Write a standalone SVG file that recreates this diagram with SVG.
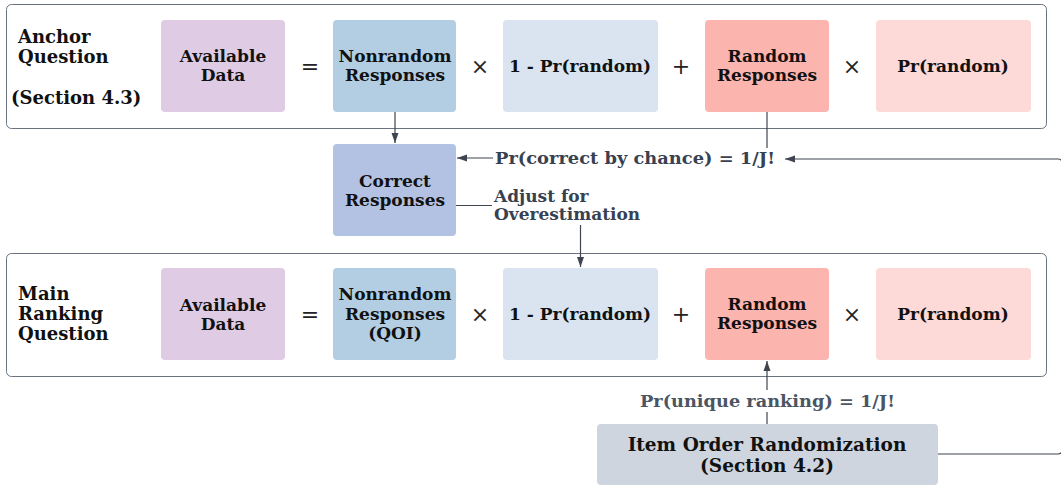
<svg xmlns="http://www.w3.org/2000/svg" width="1061" height="486" viewBox="0 0 1061 486">
<style>
text{font-family:"DejaVu Serif","Liberation Serif",serif;font-weight:bold;fill:#111;}
.c{text-anchor:middle;}
.bx{font-size:17px;}
.op{font-size:22px;font-weight:normal;text-anchor:middle;fill:#222;}
.frame{fill:none;stroke:#6b7280;stroke-width:1;}
.lbl{font-size:17px;fill:#374151;}
.conn{fill:none;stroke:#3f4550;stroke-width:1.2;}
</style>
<defs>
<marker id="ah" viewBox="0 0 10 10" refX="10" refY="5" markerWidth="10" markerHeight="10" markerUnits="userSpaceOnUse" orient="auto">
<path d="M0,1.5 L10,5 L0,8.5 Z" fill="#3f4550"/>
</marker>
</defs>

<g id="anchor-frame">
<rect class="frame" x="6.5" y="4.5" width="1040" height="124" rx="5"/>
<text x="18" y="43" font-size="18">Anchor</text>
<text x="18" y="63" font-size="18">Question</text>
<text x="11" y="104" font-size="18">(Section 4.3)</text>
</g>
<g id="a-available">
<rect x="161" y="20" width="124" height="92" rx="4" fill="#dfcce4"/>
<text class="bx c" x="223" y="62">Available</text>
<text class="bx c" x="223" y="81">Data</text>
</g>
<text class="op" x="310" y="74">=</text>
<g id="a-nonrandom">
<rect x="333" y="20" width="123" height="92" rx="4" fill="#b3cde3"/>
<text class="bx c" x="395" y="62">Nonrandom</text>
<text class="bx c" x="395" y="81">Responses</text>
</g>
<text class="op" x="480" y="74">×</text>
<g id="a-oneminus">
<rect x="503" y="20" width="155" height="92" rx="4" fill="#d9e4f0"/>
<text class="bx c" x="580" y="72">1 - Pr(random)</text>
</g>
<text class="op" x="681" y="74">+</text>
<g id="a-random">
<rect x="705" y="20" width="124" height="92" rx="4" fill="#fbb4ae"/>
<text class="bx c" x="767" y="62">Random</text>
<text class="bx c" x="767" y="81">Responses</text>
</g>
<text class="op" x="852" y="74">×</text>
<g id="a-prrandom">
<rect x="876" y="20" width="155" height="92" rx="4" fill="#fdd9d7"/>
<text class="bx c" x="953" y="72">Pr(random)</text>
</g>

<g id="correct">
<rect x="333" y="144" width="123" height="92" rx="4" fill="#b3c2e3"/>
<text class="bx c" x="395" y="187">Correct</text>
<text class="bx c" x="395" y="206">Responses</text>
</g>

<g id="main-frame">
<rect class="frame" x="6.5" y="253.5" width="1040" height="123" rx="5"/>
<text x="18" y="300" font-size="18">Main</text>
<text x="18" y="320" font-size="18">Ranking</text>
<text x="18" y="340" font-size="18">Question</text>
</g>
<g id="m-available">
<rect x="161" y="268" width="124" height="92" rx="4" fill="#dfcce4"/>
<text class="bx c" x="223" y="311">Available</text>
<text class="bx c" x="223" y="330">Data</text>
</g>
<text class="op" x="310" y="322">=</text>
<g id="m-nonrandom">
<rect x="333" y="268" width="123" height="92" rx="4" fill="#b3cde3"/>
<text class="bx c" x="395" y="300">Nonrandom</text>
<text class="bx c" x="395" y="320">Responses</text>
<text class="bx c" x="395" y="339">(QOI)</text>
</g>
<text class="op" x="480" y="322">×</text>
<g id="m-oneminus">
<rect x="503" y="268" width="155" height="92" rx="4" fill="#d9e4f0"/>
<text class="bx c" x="580" y="320">1 - Pr(random)</text>
</g>
<text class="op" x="681" y="322">+</text>
<g id="m-random">
<rect x="705" y="268" width="124" height="92" rx="4" fill="#fbb4ae"/>
<text class="bx c" x="767" y="310">Random</text>
<text class="bx c" x="767" y="329">Responses</text>
</g>
<text class="op" x="852" y="322">×</text>
<g id="m-prrandom">
<rect x="876" y="268" width="155" height="92" rx="4" fill="#fdd9d7"/>
<text class="bx c" x="953" y="320">Pr(random)</text>
</g>

<g id="item-order">
<rect x="597" y="424" width="341" height="61" rx="4" fill="#ced5de"/>
<text class="c" x="767" y="451" font-size="18.5">Item Order Randomization</text>
<text class="c" x="767" y="472" font-size="18.5">(Section 4.2)</text>
</g>

<g id="connectors">
<path class="conn" d="M395,112 V143" marker-end="url(#ah)"/>
<path class="conn" d="M767,112 V148"/>
<path class="conn" d="M493,158 H457" marker-end="url(#ah)"/>
<path class="conn" d="M938,454 H1058 Q1062,454 1062,450 V163 Q1062,159 1058,159 H785" marker-end="url(#ah)"/>
<path class="conn" d="M456,205.5 H492"/>
<path class="conn" d="M580.5,225 V267" marker-end="url(#ah)"/>
<path class="conn" d="M767,424 V412"/>
<path class="conn" d="M767,390 V361" marker-end="url(#ah)"/>
<text class="lbl" x="495" y="164" textLength="280" lengthAdjust="spacingAndGlyphs">Pr(correct by chance) = 1/J!</text>
<text class="lbl" x="494" y="202">Adjust for</text>
<text class="lbl" x="494" y="220">Overestimation</text>
<text class="lbl" x="640" y="407" textLength="255" lengthAdjust="spacingAndGlyphs" style="fill:#4b5563">Pr(unique ranking) = 1/J!</text>
</g>
</svg>
